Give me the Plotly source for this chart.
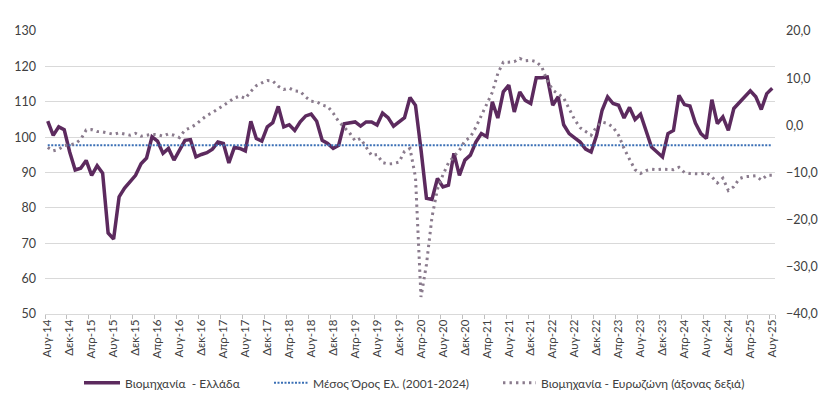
import plotly.graph_objects as go

month_names = ["Ιαν", "Φεβ", "Μαρ", "Απρ", "Μαϊ", "Ιουν", "Ιουλ", "Αυγ", "Σεπ", "Οκτ", "Νοε", "Δεκ"]
start_year, start_month, n_months = 2014, 8, 133
months = []
for k in range(n_months):
    m = (start_month - 1 + k) % 12
    y = start_year + (start_month - 1 + k) // 12
    months.append(f"{month_names[m]}-{y % 100:02d}")

tick_labels = months[::4]

greece = [
    104.5, 100.5, 102.9, 102.1, 95.8, 90.7, 91.2, 93.4, 89.2, 91.9,
    89.8, 72.9, 71.2, 83.1, 85.6, 87.3, 89.2, 92.5, 94.1, 100.1,
    98.9, 95.4, 96.8, 93.5, 96.3, 99.1, 99.3, 94.4, 95.1, 95.6,
    96.6, 98.6, 98.2, 92.7, 97.1, 96.8, 96.1, 104.5, 99.6, 98.9,
    102.9, 104.1, 108.7, 102.9, 103.5, 101.9, 104.3, 106.0, 106.5, 104.5,
    99.1, 98.2, 96.8, 97.7, 103.8, 104.0, 104.3, 103.1, 104.3, 104.3,
    103.4, 106.8, 105.5, 103.1, 104.3, 105.5, 111.2, 109.0, 96.5, 82.7,
    82.4, 88.3, 85.9, 86.4, 95.4, 89.2, 93.5, 94.9, 98.6, 101.0,
    100.1, 110.0, 105.4, 112.8, 114.7, 107.1, 112.8, 110.4, 109.5, 116.8,
    116.8, 117.0, 109.0, 111.4, 103.5, 101.0, 99.8, 98.6, 96.6, 95.8,
    100.5, 107.6, 111.4, 109.5, 109.0, 105.4, 108.4, 105.0, 106.5, 101.9,
    97.2, 95.8, 94.4, 101.0, 101.9, 111.8, 109.2, 108.8, 104.0, 101.0,
    99.6, 110.6, 103.8, 105.7, 101.9, 108.1, 109.7, 111.6, 113.1, 111.4,
    107.8, 112.3, 113.8,
]

eurozone = [
    -4.7, -5.4, -5.1, -4.3, -4.1, -3.9, -3.0, -1.0, -0.9, -1.3,
    -1.4, -1.6, -1.9, -1.6, -1.9, -2.1, -1.7, -2.3, -2.1, -1.9,
    -2.0, -2.3, -1.8, -2.1, -2.6, -1.0, -0.5, 0.2, 1.2, 2.1,
    2.7, 3.4, 4.2, 5.0, 5.8, 6.2, 5.7, 7.2, 8.4, 9.0,
    9.5, 9.4, 8.3, 7.6, 7.9, 7.3, 7.2, 6.0, 5.1, 5.0,
    4.3, 4.0, 2.6, 0.8, -0.4, -1.6, -3.3, -2.8, -4.6, -6.4,
    -6.2, -7.9, -8.2, -8.1, -7.8, -5.5, -4.9, -11.0, -36.4, -29.5,
    -19.5, -13.5, -10.5, -8.0, -6.6, -5.3, -3.3, -2.5, -0.4, 2.0,
    4.5, 7.0, 11.0, 13.4, 13.4, 13.5, 14.2, 13.7, 13.8, 13.5,
    12.4, 9.5, 7.5, 6.7, 5.8, 3.5, 1.2, -0.5, -1.3, -2.1,
    -0.3, 0.7, 0.4, -0.4, -2.1, -4.9, -7.2, -9.4, -10.2, -9.6,
    -9.3, -9.4, -9.3, -9.4, -9.4, -8.9, -10.0, -10.2, -10.2, -10.3,
    -10.0, -10.9, -12.2, -11.2, -13.8, -13.0, -11.3, -10.9, -10.8, -10.7,
    -11.6, -10.6, -10.6,
]

mean_greece = 97.7
mean_line = [mean_greece] * len(months)

FONT = "Lato"
TXT = "#404040"
LEG_Y = 0.05

fig = go.Figure()
fig.add_trace(go.Scatter(
    x=months, y=greece, name="Βιομηχανία  - Ελλάδα", mode="lines",
    line=dict(color="#5c2a5e", width=3.5), yaxis="y", legend="legend"))
fig.add_trace(go.Scatter(
    x=months, y=mean_line, name="Μέσος Όρος Ελ. (2001-2024)", mode="lines",
    line=dict(color="#3a6fb5", width=2, dash="2px,1.5px"), yaxis="y", legend="legend2"))
fig.add_trace(go.Scatter(
    x=months, y=eurozone, name="Βιομηχανία - Ευρωζώνη (άξονας δεξιά)", mode="lines",
    line=dict(color="#8a7b8d", width=3, dash="2.4px,4.1px"), yaxis="y2", legend="legend3"))

leg_common = dict(orientation="h", xref="container", yref="container",
                  xanchor="left", yanchor="middle", y=LEG_Y,
                  font=dict(family=FONT, size=12, color=TXT),
                  bgcolor="rgba(0,0,0,0)", borderwidth=0)

fig.update_layout(
    width=830, height=403,
    margin=dict(l=45, r=55, t=31, b=89, autoexpand=False),
    paper_bgcolor="white", plot_bgcolor="white",
    separators=",.",
    font=dict(family=FONT, size=12, color=TXT),
    showlegend=True,
    legend=dict(x=79 / 830, itemwidth=36, **leg_common),
    legend2=dict(x=269 / 830, itemwidth=34, **leg_common),
    legend3=dict(x=498 / 830, itemwidth=33, **leg_common),
    xaxis=dict(type="category", range=[-0.5, len(months) - 0.5],
               tickmode="array", tickvals=tick_labels, ticktext=tick_labels,
               tickangle=-90, showgrid=False, ticks="outside", ticklen=4,
               tickcolor="#bfbfbf", tickson="boundaries", automargin=False,
               showline=True, linecolor="#d9d9d9", linewidth=1,
               tickfont=dict(family=FONT, size=11.5, color=TXT), zeroline=False),
    yaxis=dict(range=[50, 130], dtick=10, tick0=50, showgrid=True, automargin=False,
               gridcolor="#d9d9d9", gridwidth=1, zeroline=False,
               ticklabelstandoff=8, tickfont=dict(family=FONT, size=12.5, color=TXT)),
    yaxis2=dict(range=[-40, 20], dtick=10, tick0=-40, overlaying="y", side="right",
                showgrid=False, zeroline=False, tickformat=".1f", automargin=False,
                ticklabelstandoff=10, tickfont=dict(family=FONT, size=12.5, color=TXT)),
)

fig.write_html("out.html")
